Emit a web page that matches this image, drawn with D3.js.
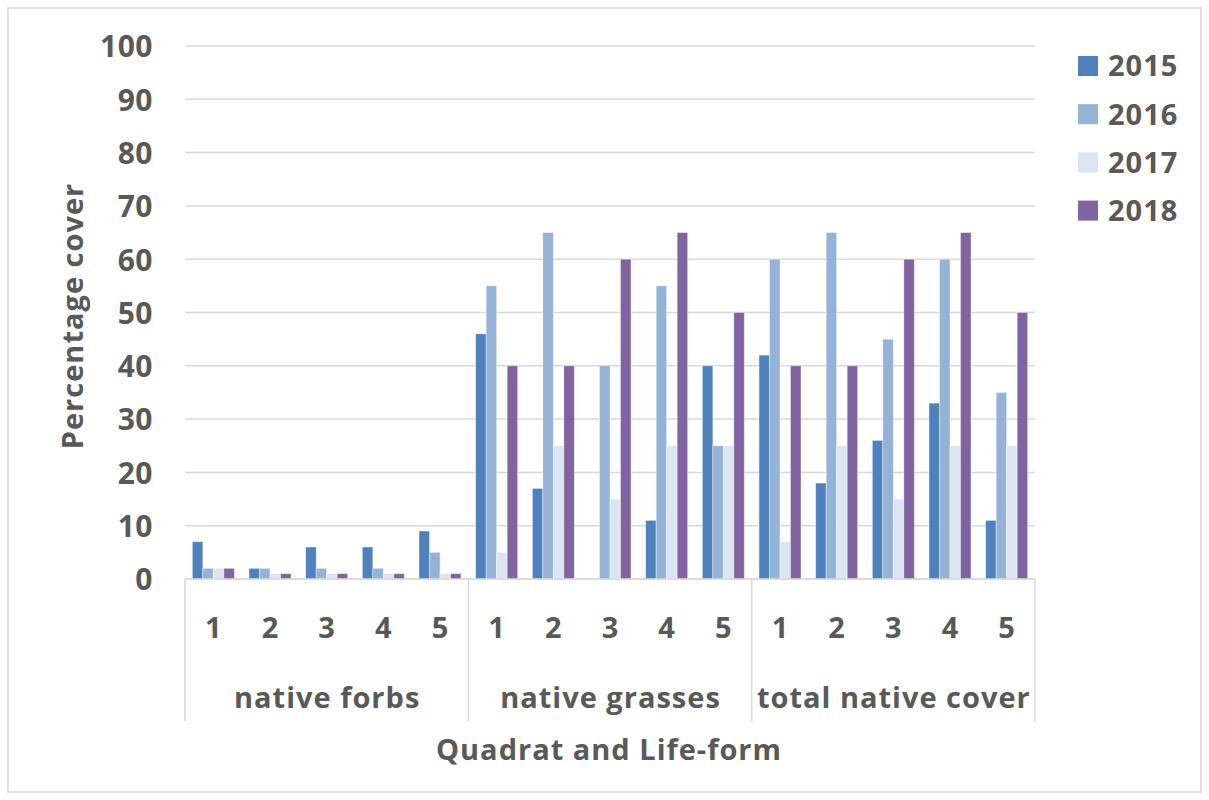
<!DOCTYPE html>
<html>
<head>
<meta charset="utf-8">
<script src="https://cdn.jsdelivr.net/npm/d3@7"></script>
<style>
  html, body { margin: 0; padding: 0; background: #fff; }
  svg text { font-family: "Open Sans", Lato, sans-serif; fill: #595959; font-weight: bold; }
</style>
</head>
<body>
<script>
const groups = ["native forbs", "native grasses", "total native cover"];
const quadrats = ["1", "2", "3", "4", "5"];
const years = ["2015", "2016", "2017", "2018"];
const colors = ["#4F81BD", "#95B3D7", "#DCE6F2", "#8064A2"];
const yTicks = [0, 10, 20, 30, 40, 50, 60, 70, 80, 90, 100];

// values per year, 15 categories (group x quadrat)
const v2015 = [7, 2, 6, 6, 9,   46, 17, 0, 11, 40,   42, 18, 26, 33, 11];
const v2016 = [2, 2, 2, 2, 5,   55, 65, 40, 55, 25,  60, 65, 45, 60, 35];
const v2017 = [2, 1, 1, 1, 1,   5, 25, 15, 25, 25,   7, 25, 15, 25, 25];
const v2018 = [2, 1, 1, 1, 1,   40, 40, 60, 65, 50,  40, 40, 60, 65, 50];
const series = [v2015, v2016, v2017, v2018];

(function () {
const W = 1209, H = 800;
const svg = d3.select("body").append("svg").attr("width", W).attr("height", H);

// outer border
svg.append("rect").attr("x", 8).attr("y", 8).attr("width", W - 16).attr("height", H - 16)
  .attr("fill", "#fff").attr("stroke", "#d9d9d9").attr("stroke-width", 1.5);

const pl = 185, pr = 1035, pt = 46, pb = 579;

const cats = [];
groups.forEach(g => quadrats.forEach(q => cats.push(g + "|" + q)));

const x = d3.scaleBand().domain(cats).range([pl, pr]).paddingInner(0).paddingOuter(0);
const xs = d3.scaleBand().domain(years).range([0, x.bandwidth()]).paddingInner(0).paddingOuter(0.7);
const y = d3.scaleLinear().domain([0, 100]).range([pb, pt]);

// gridlines
svg.append("g").selectAll("line").data(yTicks).join("line")
  .attr("x1", pl).attr("x2", pr)
  .attr("y1", d => y(d)).attr("y2", d => y(d))
  .attr("stroke", "#d9d9d9").attr("stroke-width", 1.5);

// y axis labels via d3 axis
const yAxis = svg.append("g").attr("transform", `translate(153,0)`)
  .call(d3.axisLeft(y).tickValues(yTicks).tickSize(0).tickPadding(0));
yAxis.select(".domain").remove();
yAxis.selectAll("text").style("font-size", "30px").attr("fill", "#595959")
  .style("font-family", "'Open Sans', sans-serif").style("font-weight", "bold")
  .style("letter-spacing", "0.5px").attr("dy", "0.36em");

// bars
years.forEach((yr, si) => {
  svg.append("g").selectAll("rect").data(series[si]).join("rect")
    .attr("x", (d, i) => x(cats[i]) + xs(yr))
    .attr("y", d => y(d))
    .attr("width", xs.bandwidth())
    .attr("height", d => pb - y(d))
    .attr("fill", colors[si])
    .attr("stroke", "#ffffff").attr("stroke-opacity", 0.5).attr("stroke-width", 0.8);
});

// x axis line
svg.append("line").attr("x1", pl).attr("x2", pr).attr("y1", pb).attr("y2", pb)
  .attr("stroke", "#d9d9d9").attr("stroke-width", 1.5);

// group separators
const sepX = [0, 5, 10].map(i => x(cats[i])).concat([pr]);
svg.append("g").selectAll("line").data(sepX).join("line")
  .attr("x1", d => d).attr("x2", d => d).attr("y1", pb).attr("y2", 721)
  .attr("stroke", "#d9d9d9").attr("stroke-width", 1.5);

// quadrat labels
svg.append("g").selectAll("text").data(cats).join("text")
  .attr("x", d => x(d) + x.bandwidth() / 2).attr("y", 638)
  .attr("text-anchor", "middle").style("font-size", "29px")
  .text(d => d.split("|")[1]);

// group labels
svg.append("g").selectAll("text").data(groups).join("text")
  .attr("x", (d, i) => x(cats[i * 5]) + x.bandwidth() * 2.5 + 0.5).attr("y", 708)
  .attr("text-anchor", "middle").style("font-size", "29px").style("letter-spacing", "1px")
  .text(d => d);

// axis titles
svg.append("text").attr("x", 609).attr("y", 760).attr("text-anchor", "middle")
  .style("font-size", "29px").style("letter-spacing", "1px").text("Quadrat and Life-form");
svg.append("text").attr("transform", "translate(83,316) rotate(-90)").attr("text-anchor", "middle")
  .style("font-size", "29px").style("letter-spacing", "1px").text("Percentage cover");

// legend
const lg = svg.append("g").selectAll("g").data(years).join("g")
  .attr("transform", (d, i) => `translate(1078, ${66 + i * 48.2})`);
lg.append("rect").attr("x", 0).attr("y", -10).attr("width", 20).attr("height", 20)
  .attr("fill", (d, i) => colors[i]);
lg.append("text").attr("x", 30).attr("y", 0).attr("dy", "0.36em")
  .style("font-size", "29px").style("letter-spacing", "1px").text(d => d);
})();
</script>
</body>
</html>
